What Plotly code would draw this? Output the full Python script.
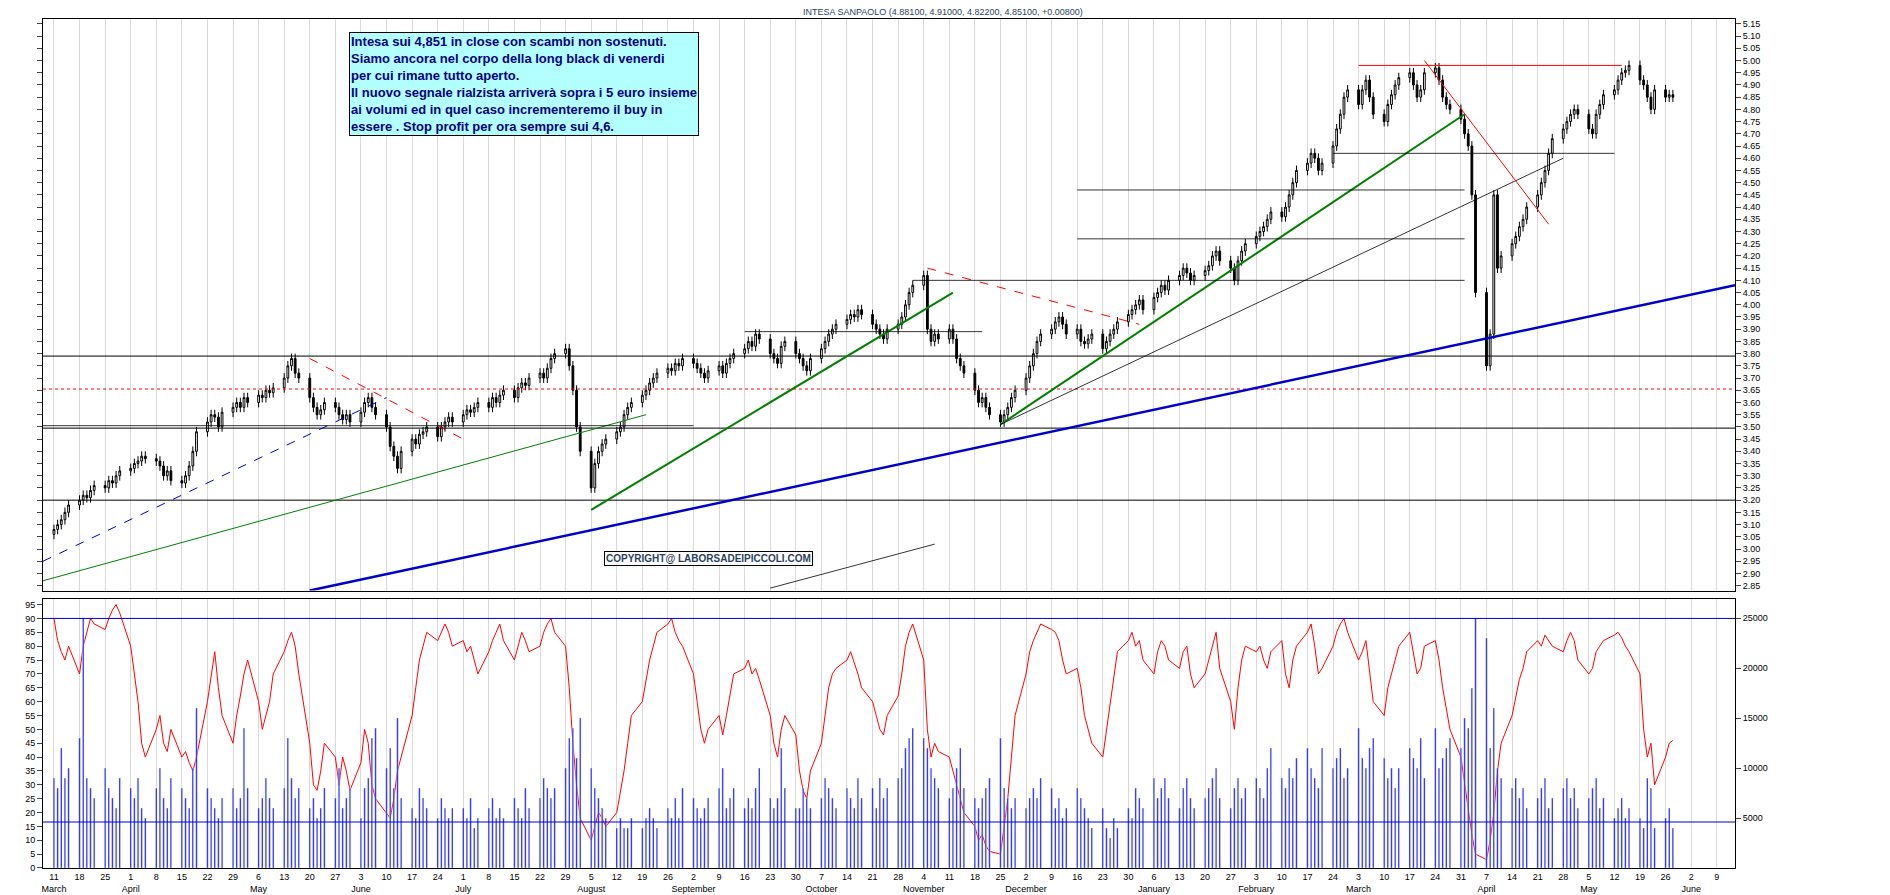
import pandas as pd
import plotly.graph_objects as go
from plotly.subplots import make_subplots

closes = [
 3.08,3.10,3.12,3.15,3.18,3.20,3.22,3.21,3.24,3.26,3.25,3.28,3.27,3.30,3.32,
 3.33,3.35,3.36,3.38,3.37,3.36,3.34,3.30,3.32,3.28,3.27,3.30,3.34,3.40,3.48,3.52,3.55,3.54,3.50,3.56,3.58,3.60,
 3.58,3.62,3.60,3.63,3.62,3.65,3.64,3.66,3.70,3.75,3.78,3.72,3.70,3.62,3.58,3.55,3.57,3.60,3.58,3.55,3.53,3.55,3.52,
 3.56,3.60,3.62,3.58,3.55,3.50,3.42,3.38,3.33,3.40,3.45,3.43,3.47,3.48,3.50,3.46,3.50,3.52,3.54,3.52,
 3.55,3.57,3.56,3.58,3.60,3.58,3.62,3.60,3.63,3.65,3.62,3.66,3.68,3.67,3.70,3.72,3.70,3.74,3.78,3.80,3.82,3.75,3.65,
 3.50,3.40,3.25,3.35,3.40,3.43,3.45,3.48,3.50,3.55,3.58,3.60,3.63,3.65,3.68,3.70,3.72,3.74,3.73,3.76,3.75,3.78,
 3.76,3.74,3.72,3.70,3.73,3.75,3.72,3.76,3.78,3.80,3.82,3.85,3.83,3.88,3.86,3.80,3.78,3.76,3.83,3.85,3.80,
 3.78,3.75,3.73,3.78,3.82,3.85,3.88,3.90,3.92,3.94,3.96,3.95,3.98,3.96,3.92,3.90,3.88,3.86,3.90,3.92,3.95,4.00,4.05,
 4.08,4.12,3.90,3.85,3.88,3.86,3.90,3.86,3.78,3.75,3.72,3.65,3.60,3.62,3.58,3.55,3.52,3.55,3.58,3.62,3.65,
 3.70,3.75,3.80,3.85,3.88,3.90,3.93,3.95,3.92,3.88,3.90,3.85,3.84,3.86,3.88,3.82,3.85,3.88,3.90,3.93,3.96,3.98,
 4.00,4.02,3.98,4.03,4.05,4.08,4.06,4.10,4.12,4.15,4.13,4.10,4.12,4.14,4.16,4.20,4.22,4.18,4.15,4.10,4.18,4.22,4.25,
 4.28,4.30,4.32,4.35,4.38,4.36,4.40,4.45,4.50,4.55,4.58,4.62,4.60,4.55,4.58,4.65,4.72,4.78,4.85,4.88,
 4.82,4.88,4.92,4.85,4.78,4.75,4.82,4.86,4.90,4.93,4.95,4.90,4.85,4.88,4.95,4.97,4.92,4.85,4.82,4.80,4.76,
 4.70,4.65,4.45,4.05,3.75,3.88,4.45,4.15,4.20,4.25,4.28,4.32,4.35,4.40,4.45,4.50,4.55,4.62,4.68,4.72,4.75,4.78,
 4.80,4.78,4.72,4.70,4.78,4.82,4.86,4.88,4.92,4.95,4.96,4.98,4.92,4.90,4.85,4.80,4.88,4.85,4.86,4.85]

volume_k = [
 9,8,12,9,10,13,25,9,8,7,10,8,7,6,9,
 8,7,9,6,5,8,10,7,6,9,8,7,6,10,16,8,7,6,5,7,8,6,
 7,14,8,6,7,9,7,6,8,13,9,7,8,6,7,5,6,8,7,10,6,7,8,
 5,8,9,13,14,10,12,8,15,7,6,5,8,7,6,5,7,6,5,6,
 6,5,7,4,5,6,7,5,6,5,7,6,5,8,6,7,9,8,7,8,10,13,14,
 11,15,10,8,7,6,5,4,5,4,4,5,4,5,6,5,4,6,5,7,5,8,
 7,6,5,6,7,8,10,6,7,8,6,7,6,8,10,7,6,7,12,8,6,
 6,8,7,6,7,9,8,7,6,8,7,6,9,7,8,6,9,7,8,9,10,12,13,
 14,13,12,10,9,8,7,8,10,12,8,7,6,7,8,9,13,8,7,6,7,
 6,7,8,7,9,8,6,7,5,6,8,7,6,5,4,6,4,3,5,4,6,5,
 8,7,6,9,7,8,9,7,6,8,9,7,6,7,8,9,10,7,6,8,9,7,8,
 9,8,7,10,12,9,8,10,9,11,12,10,9,8,12,10,11,12,9,10,
 14,11,10,12,13,11,9,10,8,10,12,11,10,13,9,14,10,11,12,13,12,
 15,14,18,25,23,12,16,10,9,8,9,7,8,6,7,8,9,6,7,8,9,7,
 8,6,7,8,9,6,7,5,6,7,5,6,5,4,9,8,4,5,6,4]

oscillator = [
 90,82,78,75,80,70,80,85,90,88,86,90,93,95,92,
 80,70,60,45,40,50,55,45,42,50,40,42,38,35,40,60,70,78,65,55,45,55,
 62,70,75,60,50,55,60,70,78,82,85,80,70,45,30,28,35,45,40,30,40,35,28,
 38,50,45,30,25,20,18,25,35,40,55,65,75,80,85,82,85,88,85,80,
 82,78,80,75,70,78,82,85,88,82,75,80,85,82,78,80,85,88,90,85,80,65,45,
 30,18,10,15,20,18,15,20,28,35,45,55,60,68,75,80,85,88,90,85,82,80,
 70,60,50,45,50,55,48,55,62,70,72,75,70,72,68,55,45,40,50,55,48,
 35,28,25,35,45,55,65,70,72,75,78,74,70,65,60,55,50,48,55,62,70,80,85,
 88,75,50,40,45,42,40,35,30,25,20,15,10,12,8,6,5,15,25,40,55,
 70,78,82,85,88,86,85,82,75,70,72,65,55,50,45,40,50,60,70,78,82,85,
 80,82,75,70,78,82,80,75,72,78,80,70,65,70,75,80,85,72,60,50,65,75,80,
 78,80,75,72,78,82,70,65,75,80,85,88,80,70,72,80,85,88,90,85,
 75,78,82,70,60,55,65,70,75,80,85,78,70,72,80,82,75,65,58,50,40,
 30,22,12,5,3,10,20,35,45,55,62,68,72,78,82,80,84,82,80,78,82,85,
 82,75,70,72,78,80,82,84,85,83,80,78,70,50,40,45,30,40,45,46]

n = min(len(closes), len(volume_k), len(oscillator))
closes, volume_k, oscillator = closes[:n], volume_k[:n], oscillator[:n]
dates = pd.bdate_range("2024-03-11", periods=n)
opens = [closes[0] - 0.02] + closes[:-1]
highs = [max(o, c) + 0.02 for o, c in zip(opens, closes)]
lows = [min(o, c) - 0.02 for o, c in zip(opens, closes)]
volume = [v * 1000 for v in volume_k]

fig = make_subplots(rows=2, cols=1, shared_xaxes=True, vertical_spacing=0.01,
                    row_heights=[0.68, 0.32], specs=[[{}], [{"secondary_y": True}]])

fig.add_trace(go.Candlestick(x=dates, open=opens, high=highs, low=lows, close=closes,
                             increasing=dict(line=dict(color="black", width=1), fillcolor="white"),
                             decreasing=dict(line=dict(color="black", width=1), fillcolor="black"),
                             showlegend=False), row=1, col=1)
fig.add_trace(go.Bar(x=dates, y=volume, marker_color="#0000ee", width=86400000 * 0.4,
                     showlegend=False), row=2, col=1, secondary_y=True)
fig.add_trace(go.Scatter(x=dates, y=oscillator, mode="lines", line=dict(color="red", width=1),
                         showlegend=False), row=2, col=1, secondary_y=False)

x0, x1 = "2024-03-08", "2025-06-14"
for y, col, dash in [(3.79, "black", "solid"), (3.495, "black", "solid"), (3.20, "black", "solid"),
                     (3.655, "red", "dot")]:
    fig.add_shape(type="line", x0=x0, x1=x1, y0=y, y1=y, line=dict(color=col, width=1, dash=dash),
                  xref="x", yref="y")
fig.add_shape(type="line", x0="2025-03-03", x1="2025-05-14", y0=4.98, y1=4.98,
              line=dict(color="red", width=1), xref="x", yref="y")
lines = [
    ("2024-05-20", 2.83, "2025-06-14", 4.08, "#0000cc", 2.5, "solid"),
    ("2024-03-08", 2.95, "2024-06-10", 3.62, "#0000cc", 1, "dash"),
    ("2024-03-08", 2.87, "2024-08-20", 3.55, "green", 1, "solid"),
    ("2024-08-05", 3.16, "2024-11-12", 4.05, "green", 2, "solid"),
    ("2024-11-25", 3.51, "2025-04-01", 4.78, "green", 2, "solid"),
    ("2024-11-25", 3.51, "2025-04-28", 4.60, "black", 0.8, "solid"),
    ("2024-05-20", 3.78, "2024-07-01", 3.45, "red", 1, "dash"),
    ("2024-11-05", 4.15, "2025-01-02", 3.92, "red", 1, "dash"),
    ("2025-03-21", 5.00, "2025-04-24", 4.33, "red", 1, "solid"),
    ("2024-09-23", 2.84, "2024-11-07", 3.02, "black", 0.8, "solid"),
]
for a, ya, b, yb, col, w, dash in lines:
    fig.add_shape(type="line", x0=a, y0=ya, x1=b, y1=yb, line=dict(color=col, width=w, dash=dash),
                  xref="x", yref="y")
for a, b, y in [("2024-03-08", "2024-09-02", 3.505), ("2024-09-16", "2024-11-20", 3.89),
                ("2024-11-01", "2025-04-01", 4.10), ("2024-12-16", "2025-04-01", 4.27),
                ("2024-12-16", "2025-04-01", 4.47), ("2025-02-24", "2025-05-12", 4.62)]:
    fig.add_shape(type="line", x0=a, x1=b, y0=y, y1=y, line=dict(color="black", width=0.8),
                  xref="x", yref="y")
fig.add_shape(type="line", x0=x0, x1=x1, y0=90, y1=90, line=dict(color="#0000cc", width=1), xref="x2", yref="y2")
fig.add_shape(type="line", x0=x0, x1=x1, y0=4600, y1=4600, line=dict(color="#0000cc", width=1), xref="x2", yref="y3")

fig.add_annotation(x=0.17, y=0.985, xref="paper", yref="paper", xanchor="left", yanchor="top", align="left",
                   text="<b>Intesa sui 4,851 in close con scambi non sostenuti.<br>Siamo ancora nel corpo della long black di venerdi<br>"
                        "per cui rimane tutto aperto.<br>Il nuovo segnale rialzista arriverà sopra i 5 euro insieme<br>"
                        "ai volumi ed in quel caso incrementeremo il buy in<br>essere . Stop profit per ora sempre sui 4,6.</b>",
                   showarrow=False, bgcolor="#b3ffff", bordercolor="black", borderwidth=1,
                   font=dict(family="Arial", size=13, color="#000080"))
fig.add_annotation(x=0.5, y=1.0, xref="paper", yref="paper", yanchor="bottom", showarrow=False,
                   text="INTESA SANPAOLO (4.88100, 4.91000, 4.82200, 4.85100, +0.00800)",
                   font=dict(size=9, family="Arial"))
fig.add_annotation(x="2024-09-06", y=2.96, xref="x", yref="y", showarrow=False, bgcolor="white",
                   bordercolor="black", borderwidth=1, text="<b>COPYRIGHT@ LABORSADEIPICCOLI.COM</b>",
                   font=dict(size=10, family="Arial"))

mondays = pd.date_range("2024-03-11", "2025-06-09", freq="W-MON")
ticktext = []
prev_m = None
for d in mondays:
    ticktext.append(f"{d.day}<br>{d.strftime('%B')}" if d.month != prev_m else f"{d.day}<br> ")
    prev_m = d.month

fnt = dict(size=9, family="Arial", color="black")
fig.update_xaxes(range=[x0, x1], showgrid=True, gridcolor="#d8d8d8", gridwidth=1, tickvals=mondays,
                 ticktext=ticktext, tickangle=0, tickfont=fnt, showline=True, linecolor="black", mirror=True,
                 rangeslider_visible=False)
fig.update_xaxes(showticklabels=False, row=1, col=1)
fig.update_yaxes(range=[2.83, 5.17], dtick=0.05, tickformat=".2f", side="right", showgrid=False,
                 tickfont=fnt, showline=True, linecolor="black", mirror="ticks", ticks="outside", row=1, col=1)
fig.update_yaxes(range=[0, 97], dtick=5, showgrid=False, tickfont=fnt, showline=True, linecolor="black",
                 ticks="outside", row=2, col=1, secondary_y=False)
fig.update_yaxes(range=[0, 26900], tickvals=[5000, 10000, 15000, 20000, 25000],
                 ticktext=["5000", "10000", "15000", "20000", "25000"], showgrid=False, tickfont=fnt,
                 showline=True, linecolor="black", ticks="outside", row=2, col=1, secondary_y=True)
fig.update_layout(width=1890, height=895, plot_bgcolor="white", paper_bgcolor="white",
                  margin=dict(l=35, r=55, t=10, b=30), bargap=0.5, showlegend=False)
fig.write_html("out.html")
